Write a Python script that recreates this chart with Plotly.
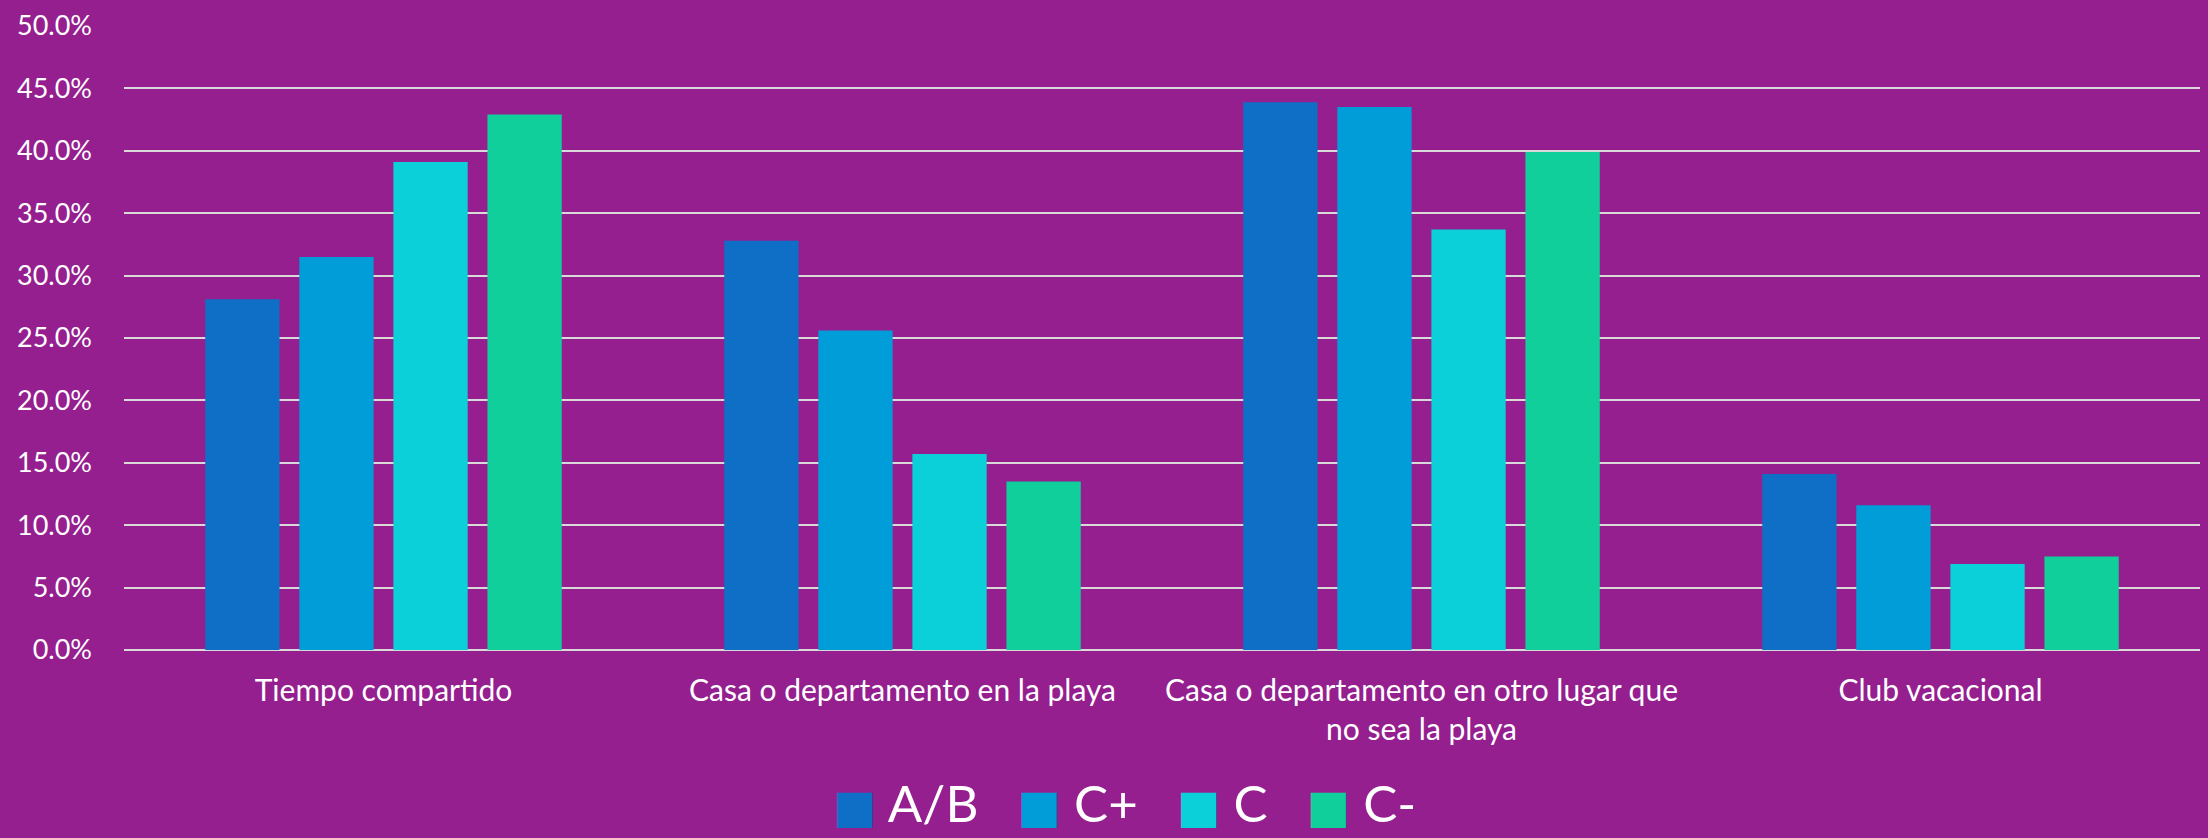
import plotly.graph_objects as go

categories = [
    "Tiempo compartido",
    "Casa o departamento en la playa",
    "Casa o departamento en otro lugar que<br>no sea la playa",
    "Club vacacional",
]
series_names = ["A/B", "C+", "C", "C-"]
ab_values = [28.1, 32.8, 43.9, 14.1]
cplus_values = [31.5, 25.6, 43.5, 11.6]
c_values = [39.1, 15.7, 33.7, 6.9]
cminus_values = [42.9, 13.5, 39.9, 7.5]
y_ticks = [0, 5, 10, 15, 20, 25, 30, 35, 40, 45, 50]

colors = ["#0F6FC6", "#009DD9", "#0BD0D9", "#10CF9B"]
bg = "#951F8F"

fig = go.Figure()
for name, vals, col in zip(series_names, [ab_values, cplus_values, c_values, cminus_values], colors):
    fig.add_trace(go.Bar(
        name=name,
        x=categories,
        y=vals,
        marker=dict(color=col, line=dict(width=0)),
    ))

# big legend like the original (plotly's own bar swatches are too small)
legend_parts = []
for name, col in zip(series_names, colors):
    legend_parts.append(
        f"<span style='color:{col};font-family:DejaVu Sans;font-size:46px'>■</span>"
        f" {name}"
    )
legend_text = "&nbsp;&nbsp;&nbsp;".join(legend_parts)

fig.add_annotation(
    text=legend_text,
    xref="paper", yref="paper",
    x=0.4817, y=-0.244,
    xanchor="center", yanchor="middle",
    showarrow=False,
    font=dict(family="Lato", size=51, color="white"),
)

fig.update_layout(
    width=2208,
    height=838,
    barmode="group",
    bargap=0.275,
    bargroupgap=0.21,
    paper_bgcolor=bg,
    plot_bgcolor=bg,
    font=dict(family="Lato", color="white"),
    margin=dict(l=124, r=8, t=24, b=188),
    showlegend=False,
)
fig.update_xaxes(
    tickfont=dict(size=30, color="white"),
    showgrid=False,
    showline=False,
    ticks="",
    ticklabelstandoff=20,
)
fig.update_yaxes(
    range=[0, 50],
    tickvals=y_ticks,
    ticktext=[f"{v:.1f}%" for v in y_ticks],
    tickfont=dict(size=27, color="white"),
    showgrid=True,
    gridcolor="#D9D9D9",
    gridwidth=2,
    zeroline=True,
    zerolinecolor="#D9D9D9",
    zerolinewidth=2,
    ticks="",
    ticklabelstandoff=31,
)

fig.write_html("out.html", config={"displayModeBar": False},
               post_script="document.body.style.margin='0';")
